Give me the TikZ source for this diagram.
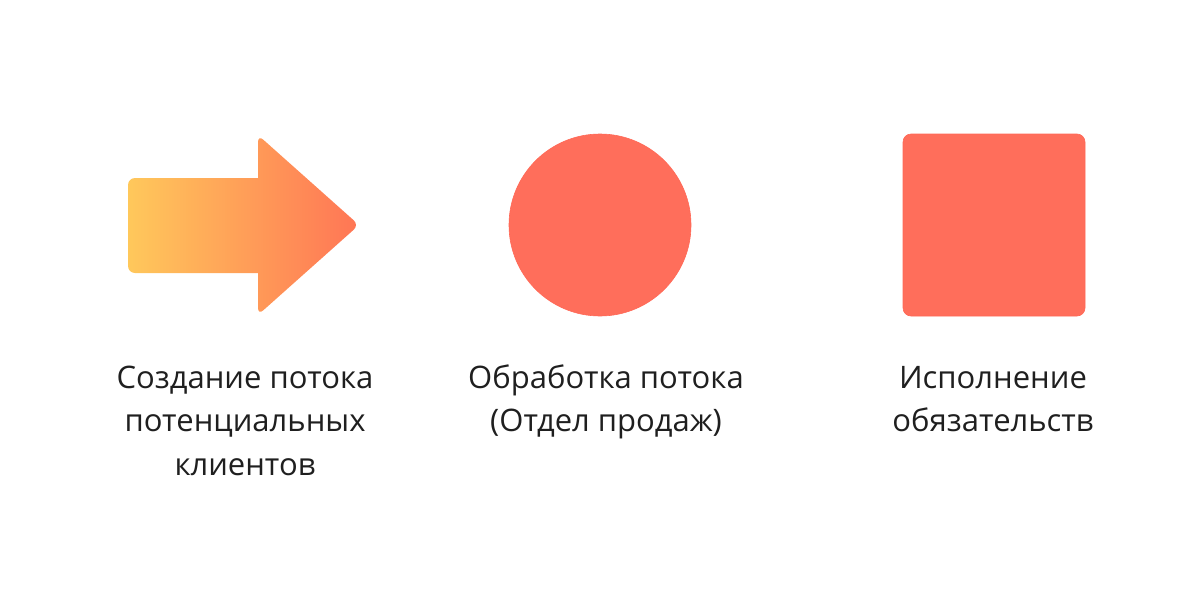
\documentclass[tikz,border=0pt]{standalone}
\usepackage{fontspec}
\setmainfont{Open Sans}
\definecolor{coral}{HTML}{FF6E5B}
\definecolor{sunny}{HTML}{FFC85B}
\definecolor{peach}{HTML}{FF7555}
\tikzset{
  caption/.style={align=center, anchor=base, inner sep=0pt, text=black!88,
    font=\fontsize{31}{43.5}\selectfont},
  figure/.style={fill=coral, draw=coral!95!red, line width=0.6pt, inner sep=0pt, minimum size=182pt},
}
\begin{document}
\begin{tikzpicture}[x=1pt,y=-1pt]
  \useasboundingbox (0,0) rectangle (1200,600);
  % arrow with gradient
  \shade[left color=sunny, right color=peach, rounded corners=7pt]
    (128,225) -- (128,178) [sharp corners] -- (258,178) [rounded corners=7pt] -- (258,135)
    -- (359,225) -- (258,315) [sharp corners] -- (258,273) [rounded corners=7pt] -- (128,273) -- cycle;
  \coordinate (flow) at (241,225);
  \node[figure, circle] (sales) at (600,225) {};
  \node[figure, rectangle, rounded corners=8pt] (duty) at (994,225) {};

  % captions: base anchor sits on the last line
  \node[caption] (flowtext) at (245,475) {Создание потока\\потенциальных\\клиентов};
  \node[caption] (salestext) at (606,431.5) {Обработка потока\\(Отдел продаж)};
  \node[caption] (dutytext) at (993,431.5) {Исполнение\\обязательств};
\end{tikzpicture}
\end{document}
